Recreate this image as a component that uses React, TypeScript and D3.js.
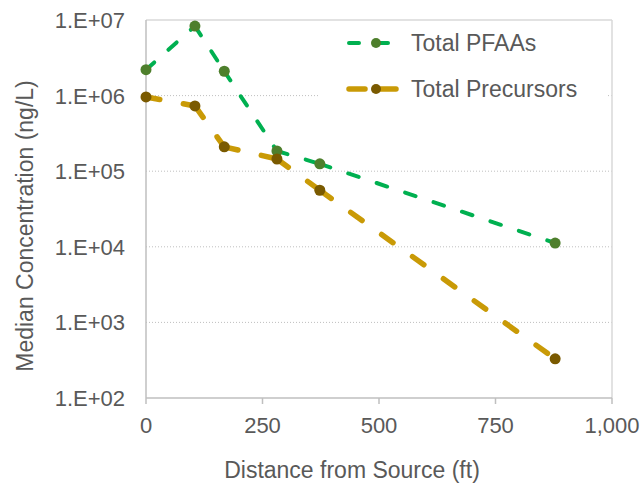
import * as d3 from 'd3'

const distances = [0, 105, 168, 281, 373, 878]
const pfaas = [2.2e6, 8.3e6, 2.1e6, 1.85e5, 1.25e5, 1.12e4]
const precursors = [9.6e5, 7.3e5, 2.1e5, 1.45e5, 5.6e4, 330]
const xTicks = [0, 250, 500, 750, 1000]
const yTicks = [1e2, 1e3, 1e4, 1e5, 1e6, 1e7]
const seriesNames = ['Total PFAAs', 'Total Precursors']

const W = 644
const H = 484
const M = { left: 146, right: 612, top: 20, bottom: 398 }
const FONT = '"Liberation Sans", Arial, sans-serif'
const TXT = '#595959'

const series = [
  { name: seriesNames[0], values: pfaas, line: '#00B050', marker: '#4E7F2C', width: 4, dash: '11,19' },
  { name: seriesNames[1], values: precursors, line: '#C99A06', marker: '#7A5A00', width: 5.5, dash: '14,24' },
]

export default function App() {
  const x = d3.scaleLinear().domain([0, 1000]).range([M.left, M.right])
  const y = d3.scaleLog().domain([1e2, 1e7]).range([M.bottom, M.top])
  const fmtX = d3.format(',')
  const fmtY = (v: number) => `1.E+${String(Math.round(Math.log10(v))).padStart(2, '0')}`

  return (
    <svg width={W} height={H} style={{ position: 'absolute', left: 0, top: 0 }} fontFamily={FONT}>
      <rect width={W} height={H} fill="#fff" />

      {/* gridlines */}
      {yTicks.slice(1, -1).map((t) => (
        <line key={t} x1={M.left} x2={M.right} y1={y(t)} y2={y(t)} stroke="#BFBFBF" strokeWidth={1} strokeDasharray="1,2" />
      ))}

      {/* plot border */}
      <line x1={M.left} x2={M.right} y1={M.top} y2={M.top} stroke="#D9D9D9" strokeWidth={1.5} />
      <line x1={M.right} x2={M.right} y1={M.top} y2={M.bottom} stroke="#D9D9D9" strokeWidth={1.5} />
      <line x1={M.left} x2={M.left} y1={M.top} y2={M.bottom} stroke="#BFBFBF" strokeWidth={1.5} />
      <line x1={M.left} x2={M.right} y1={M.bottom} y2={M.bottom} stroke="#BFBFBF" strokeWidth={1.5} />

      {/* x ticks */}
      {xTicks.map((t) => (
        <g key={t}>
          <line x1={x(t)} x2={x(t)} y1={M.bottom} y2={M.bottom + 6} stroke="#BFBFBF" strokeWidth={1.5} />
          <text x={x(t)} y={433} textAnchor="middle" fontSize={22} fill={TXT}>{fmtX(t)}</text>
        </g>
      ))}

      {/* y ticks */}
      {yTicks.map((t) => (
        <text key={t} x={125} y={y(t)} dy="0.36em" textAnchor="end" fontSize={22} fill={TXT}>{fmtY(t)}</text>
      ))}

      {/* series */}
      {series.map((s) => (
        <g key={s.name}>
          {s.values.slice(1).map((v, i) => (
            <line
              key={i}
              x1={x(distances[i])}
              y1={y(s.values[i])}
              x2={x(distances[i + 1])}
              y2={y(v)}
              stroke={s.line}
              strokeWidth={s.width}
              strokeDasharray={s.dash}
              strokeLinecap="round"
            />
          ))}
          {s.values.map((v, i) => (
            <circle key={i} cx={x(distances[i])} cy={y(v)} r={5.5} fill={s.marker} />
          ))}
        </g>
      ))}

      {/* legend */}
      <rect x={318} y={22} width={289} height={92} fill="#fff" />
      {series.map((s, i) => {
        const ly = 43 + i * 46
        return (
          <g key={s.name}>
            <line x1={349} x2={i === 0 ? 390 : 402} y1={ly} y2={ly} stroke={s.line} strokeWidth={s.width}
              strokeDasharray={i === 0 ? '10,19' : '16,15'} strokeLinecap="round" />
            <circle cx={376} cy={ly} r={5} fill={s.marker} />
            <text x={411} y={ly} dy="0.36em" fontSize={23} fill={TXT}>{s.name}</text>
          </g>
        )
      })}

      {/* axis titles */}
      <text x={352} y={478} textAnchor="middle" fontSize={23} fill={TXT}>Distance from Source (ft)</text>
      <text transform="translate(33,226) rotate(-90)" textAnchor="middle" fontSize={23} fill={TXT}>
        Median Concentration (ng/L)
      </text>
    </svg>
  )
}
